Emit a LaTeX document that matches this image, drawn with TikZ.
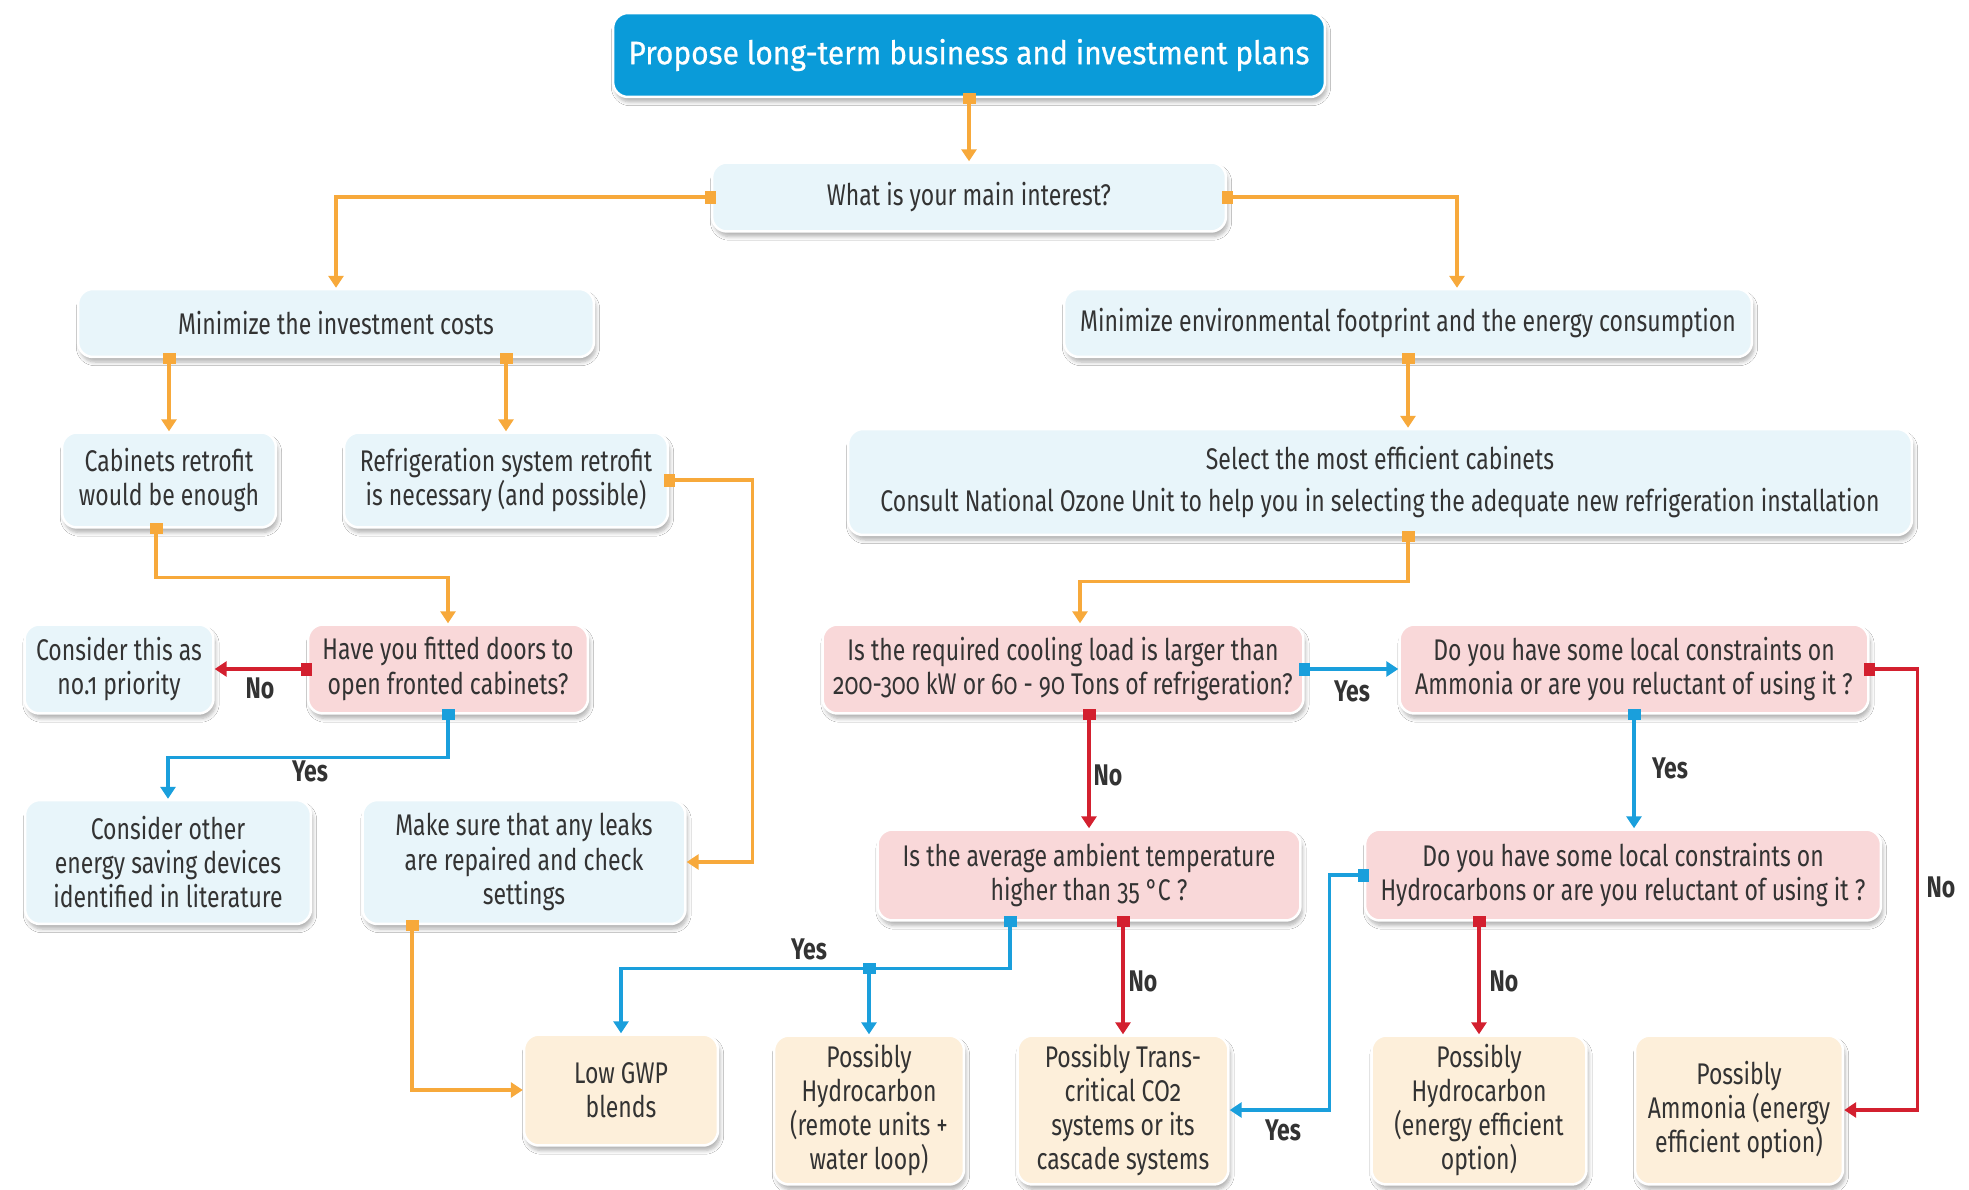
\documentclass[tikz,border=0pt]{standalone}
\usepackage{fontspec}
\setmainfont{Fira Sans}[FakeStretch=0.77,Numbers=OldStyle]
\newfontfamily\titlefont{Fira Sans}[FakeStretch=0.92,FakeBold=0.6]
\usetikzlibrary{arrows.meta,shadows.blur}

\definecolor{titleblue}{HTML}{0A9BD9}
\definecolor{paleblue}{HTML}{E8F5FA}
\definecolor{palepink}{HTML}{F9D8D9}
\definecolor{palepeach}{HTML}{FDEFDA}
\definecolor{textgray}{HTML}{333333}
\definecolor{lineorange}{HTML}{F7A93B}
\definecolor{linered}{HTML}{D3202F}
\definecolor{lineblue}{HTML}{1A9FDC}

\tikzset{
  base/.style={rounded corners=0.3cm, draw=white, line width=0.05cm, align=center,
    inner sep=0pt, text=textgray, font=\fontsize{17}{19.5}\selectfont,
    blur shadow={shadow xshift=0.04cm, shadow yshift=-0.1cm, shadow blur steps=6, shadow opacity=30}},
  infobox/.style={base, fill=paleblue},
  askbox/.style={base, fill=palepink},
  endbox/.style={base, fill=palepeach},
  titlebox/.style={base, fill=titleblue, text=white, font=\titlefont\fontsize{18.5}{21}\selectfont},
  link/.style={line width=0.065cm, {Square[length=0.22cm,width=0.26cm]}-{Triangle[length=0.24cm,width=0.3cm]}, shorten <=-0.11cm},
  oline/.style={link, draw=lineorange},
  rline/.style={link, draw=linered},
  bline/.style={link, draw=lineblue},
  ans/.style={font=\bfseries\fontsize{17}{19}\selectfont, text=textgray},
}

\begin{document}
\begin{tikzpicture}[x=0.02cm,y=-0.02cm]
  \fill[white] (0,0) rectangle (1969,1190);
  \useasboundingbox (0,0) rectangle (1969,1190);

  % top of the chart
  \node[titlebox, minimum width=14.24cm, minimum height=1.68cm] (top) at (969,55) {Propose long-term business and investment plans};
  \node[infobox, minimum width=10.28cm, minimum height=1.38cm] (interest) at (969,197) {What is your main interest?};
  \node[infobox, minimum width=10.32cm, minimum height=1.36cm] (mininv) at (336,323) {Minimize the investment costs};
  \node[infobox, minimum width=13.76cm, minimum height=1.36cm] (minenv) at (1408,323) {Minimize environmental footprint and the energy consumption};

  % left branch
  \node[infobox, minimum width=4.28cm, minimum height=1.9cm] (cab) at (169,480) {Cabinets retrofit\\would be enough};
  \node[infobox, minimum width=6.48cm, minimum height=1.9cm] (refrig) at (506,480) {Refrigeration system retrofit\\is necessary (and possible)};
  \node[infobox, minimum width=3.78cm, minimum height=1.78cm] (cons1) at (119,669) {Consider this as\\no.1 priority};
  \node[askbox, minimum width=5.6cm, minimum height=1.78cm] (doors) at (448,669) {Have you fitted doors to\\open fronted cabinets?};
  \node[infobox, minimum width=5.72cm, minimum height=2.48cm] (others) at (168,862) {Consider other\\energy saving devices\\identified in literature};
  \node[infobox, minimum width=6.46cm, minimum height=2.48cm] (leaks) at (524,862) {Make sure that any leaks\\are repaired and check\\settings};

  % right branch
  \node[infobox, minimum width=21.28cm, minimum height=2.12cm] (select) at (1380,482) {Select the most efficient cabinets\\[4pt]Consult National Ozone Unit to help you in selecting the adequate new refrigeration installation};
  \node[askbox, minimum width=9.62cm, minimum height=1.78cm] (cool) at (1063,669) {Is the required cooling load is larger than\\200-300 kW or 60 - 90 Tons of refrigeration?};
  \node[askbox, minimum width=9.38cm, minimum height=1.78cm] (amm) at (1634,669) {Do you have some local constraints on\\Ammonia or are you reluctant of using it ?};
  \node[askbox, minimum width=8.46cm, minimum height=1.82cm] (avg) at (1089,875) {Is the average ambient temperature\\higher than 35 °C ?};
  \node[askbox, minimum width=10.32cm, minimum height=1.82cm] (hydro) at (1623,875) {Do you have some local constraints on\\Hydrocarbons or are you reluctant of using it ?};

  % outcomes
  \node[endbox, minimum width=3.88cm, minimum height=2.22cm] (lowgwp) at (621,1090) {Low GWP\\blends};
  \node[endbox, minimum width=3.8cm, minimum height=2.98cm] (hcrem) at (869,1110) {Possibly\\Hydrocarbon\\(remote units +\\water loop)};
  \node[endbox, minimum width=4.22cm, minimum height=2.98cm] (trans) at (1123,1110) {Possibly Trans-\\critical CO2\\systems or its\\cascade systems};
  \node[endbox, minimum width=4.3cm, minimum height=2.98cm] (hceff) at (1479,1110) {Possibly\\Hydrocarbon\\(energy efficient\\option)};
  \node[endbox, minimum width=4.16cm, minimum height=2.98cm] (ammopt) at (1739,1110) {Possibly\\Ammonia (energy\\efficient option)};

  % connectors
  \draw[oline] (top.south) -- (interest.north);
  \draw[oline] (interest.west) -| (mininv.north);
  \draw[oline] (interest.east) -| ([xshift=0.98cm]minenv.north);
  \draw[oline] (mininv.south -| cab.north) -- (cab.north);
  \draw[oline] (mininv.south -| refrig.north) -- (refrig.north);
  \draw[oline] (minenv.south) -- (minenv.south |- select.north);
  \draw[oline] (minenv.south |- select.south) -- ++(0,45) -| ([xshift=0.34cm]cool.north);
  \draw[oline] ([xshift=-0.26cm]cab.south) -- ++(0,49) -| (doors.north);
  \draw[oline] (refrig.east) -- ++(83,0) |- (leaks.east);
  \draw[rline] (doors.west) -- (cons1.east);
  \draw[bline] (doors.south) -- ++(0,43) -| (others.north);
  \draw[oline] ([xshift=-2.24cm]leaks.south) |- (lowgwp.west);
  \draw[bline] (cool.east) -- (amm.west);
  \draw[rline] (avg.north |- cool.south) -- (avg.north);
  \draw[bline] (amm.south) -- (amm.south |- hydro.north);
  \draw[rline] (amm.east) -- ++(48,0) |- (ammopt.east);
  \draw[bline] ([xshift=-1.58cm]avg.south) -- ++(0,47) coordinate (fork) -| (lowgwp.north);
  \draw[bline] (fork -| hcrem.north) -- (hcrem.north);
  \draw[rline] (trans.north |- avg.south) -- (trans.north);
  \draw[bline] (hydro.west) -- ++(-34,0) |- (trans.east);
  \draw[rline] (hceff.north |- hydro.south) -- (hceff.north);

  % answers
  \node[ans] (no1) at (260,688) {No};
  \node[ans] (yes1) at (310,771) {Yes};
  \node[ans] (yes2) at (1352,691) {Yes};
  \node[ans] (no2) at (1108,775) {No};
  \node[ans] (yes3) at (1670,768) {Yes};
  \node[ans] (no3) at (1941,887) {No};
  \node[ans] (yes4) at (809,949) {Yes};
  \node[ans] (no4) at (1143,981) {No};
  \node[ans] (yes5) at (1283,1130) {Yes};
  \node[ans] (no5) at (1504,981) {No};
\end{tikzpicture}
\end{document}
